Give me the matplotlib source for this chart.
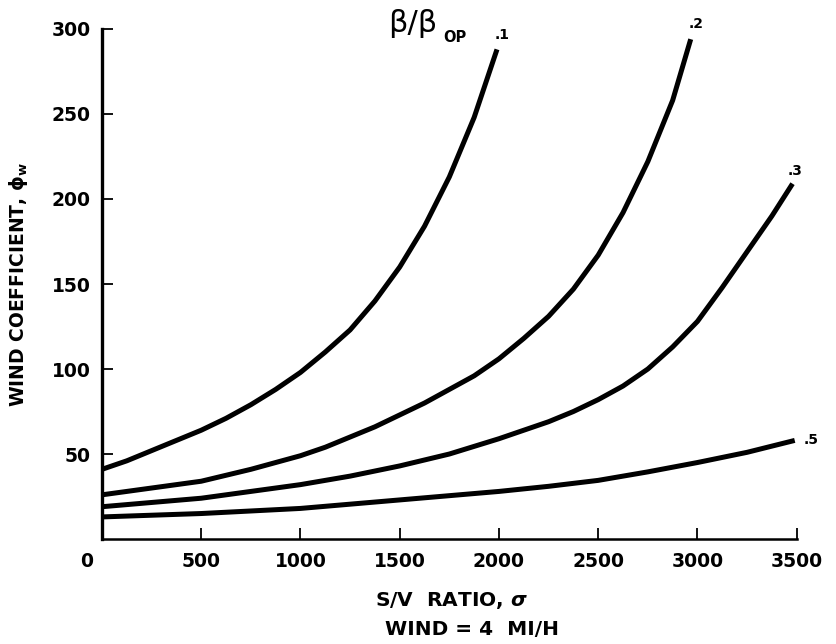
import numpy as np
import matplotlib.pyplot as plt
import matplotlib.transforms as mtransforms

# curves, one per beta/beta_op ratio
x_01 = [0, 125, 250, 375, 500, 625, 750, 875, 1000, 1125, 1250, 1375, 1500, 1625, 1750, 1875, 1990]
y_01 = [41, 46, 52, 58, 64, 71, 79, 88, 98, 110, 123, 140, 160, 184, 213, 248, 288]

x_02 = [0, 250, 500, 750, 1000, 1125, 1250, 1375, 1500, 1625, 1750, 1875, 2000, 2125,
        2250, 2375, 2500, 2625, 2750, 2875, 2966]
y_02 = [26, 30, 34, 41, 49, 54, 60, 66, 73, 80, 88, 96, 106, 118,
        131, 147, 167, 192, 222, 258, 294]

x_03 = [0, 250, 500, 750, 1000, 1250, 1500, 1750, 2000, 2250, 2375, 2500, 2625, 2750,
        2875, 3000, 3125, 3250, 3375, 3479]
y_03 = [19, 21.5, 24, 28, 32, 37, 43, 50, 59, 69, 75, 82, 90, 100,
        113, 128, 148, 169, 190, 209]

x_05 = [0, 250, 500, 750, 1000, 1250, 1500, 1750, 2000, 2250, 2500, 2750, 3000, 3250, 3490]
y_05 = [13, 14, 15, 16.5, 18, 20.5, 23, 25.5, 28, 31, 34.5, 39.5, 45, 51, 58]

curve_names = ['.1', '.2', '.3', '.5']
label_offsets = [(4, 5), (4, 6), (2, 4), (12, 0)]  # points

xticks = [0, 500, 1000, 1500, 2000, 2500, 3000, 3500]
yticks = [50, 100, 150, 200, 250, 300]

plt.rcParams['font.family'] = ['DejaVu Sans']
plt.rcParams['font.weight'] = 'bold'

fig = plt.figure(figsize=(8.36, 6.44), dpi=100)
ax = fig.add_axes([0.122, 0.163, 0.831, 0.792])

series = [(x_01, y_01), (x_02, y_02), (x_03, y_03), (x_05, y_05)]
for (xs, ys), name, off in zip(series, curve_names, label_offsets):
    ax.plot(xs, ys, color='black', lw=3.6, solid_capstyle='butt', solid_joinstyle='round')
    ax.annotate(name, (xs[-1], ys[-1]), xytext=off, textcoords='offset points',
                ha='center', va='bottom' if off[1] else 'center',
                fontsize=10, fontweight='bold')

# beta / beta_OP key above the curves
ax.text(1440, 303, 'β/β', fontsize=22, va='center', ha='left', fontweight='normal')
ax.text(1720, 295, 'OP', fontsize=10.5, va='center', ha='left', fontweight='bold')

ax.set_xlim(0, 3500)
ax.set_ylim(0, 300)
ax.set_xticks(xticks)
ax.set_yticks(yticks)
ax.tick_params(direction='in', length=8, width=1.3, labelsize=13.5, pad=9)
ax.tick_params(axis='y', pad=8)
for lab in ax.get_xticklabels() + ax.get_yticklabels():
    lab.set_fontweight('bold')
# the origin label sits left of the axis
zero_lab = ax.get_xticklabels()[0]
zero_lab.set_transform(zero_lab.get_transform() +
                       mtransforms.ScaledTranslation(-0.15, 0, fig.dpi_scale_trans))
ax.xaxis.get_major_ticks()[0].tick1line.set_visible(False)

for side in ['top', 'right']:
    ax.spines[side].set_visible(False)
ax.spines['left'].set_linewidth(2.4)
ax.spines['bottom'].set_linewidth(1.8)

ax.set_ylabel(r'WIND COEFFICIENT, $\mathbf{\phi_w}$', fontsize=13.5, fontweight='bold', labelpad=16)
fig.text(0.54, 0.068, r'S/V  RATIO, $\sigma$', fontsize=14.5, fontweight='bold', ha='center', va='center')
fig.text(0.565, 0.022, 'WIND = 4  MI/H', fontsize=14.5, fontweight='bold', ha='center', va='center')

fig.savefig('out.png', dpi=100, facecolor='white')
